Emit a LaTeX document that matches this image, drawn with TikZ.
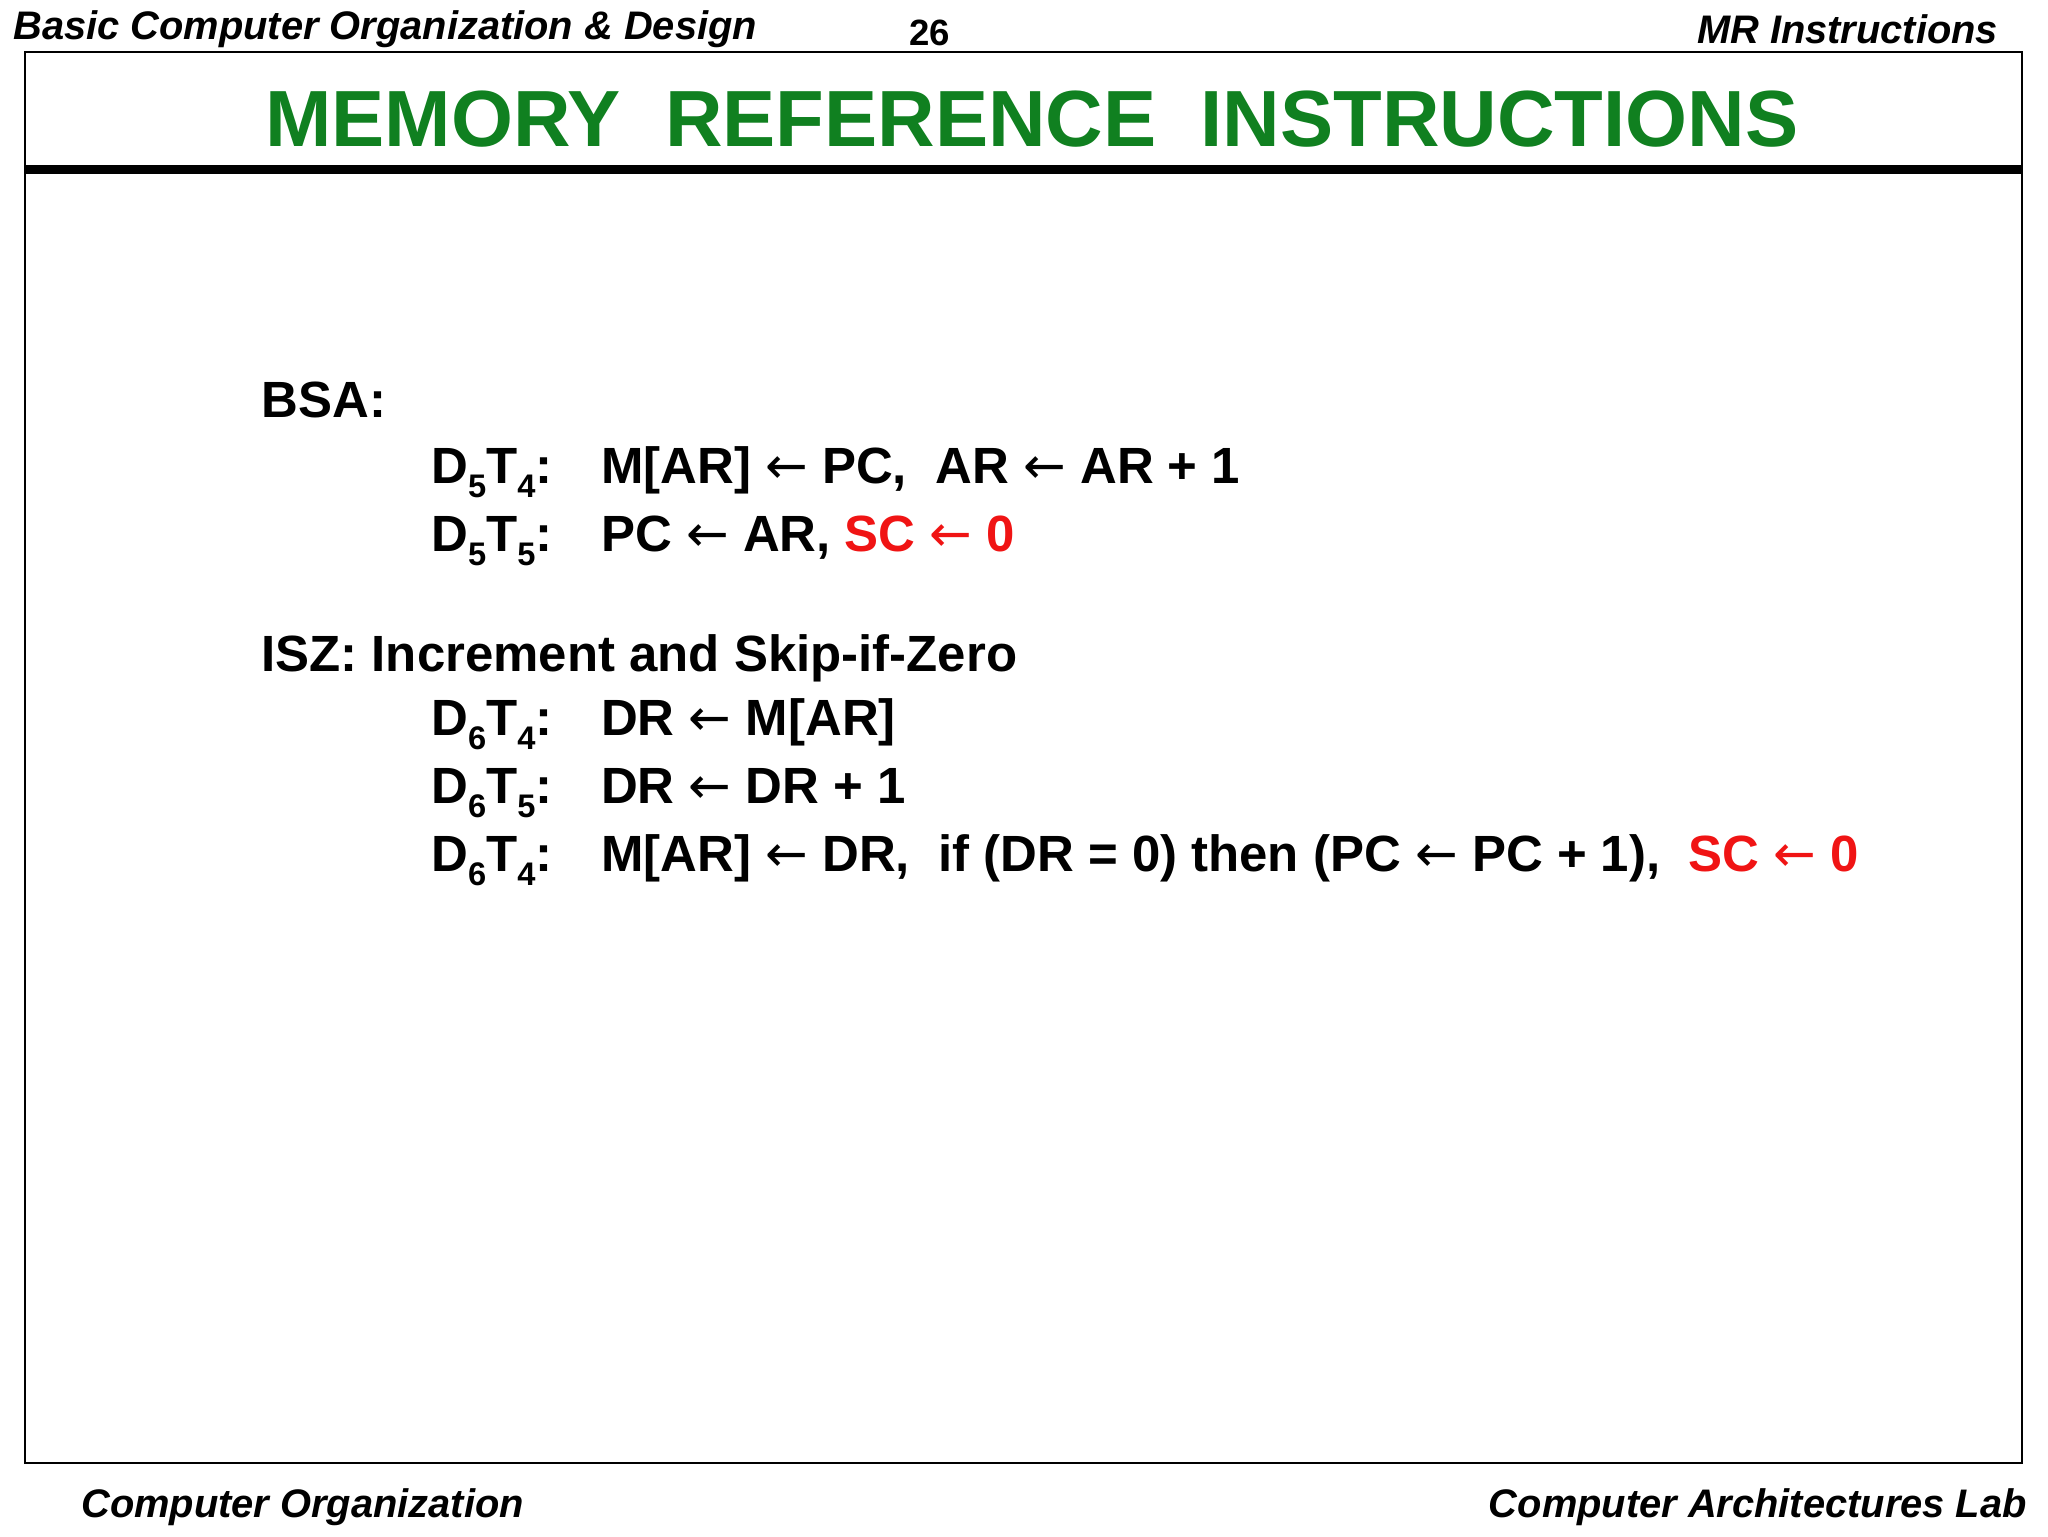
\documentclass[tikz,border=0pt]{standalone}
\usepackage{fontspec}
\setmainfont{Liberation Sans}
\newfontfamily\arrfont{DejaVu Sans}
\definecolor{tgreen}{RGB}{16,128,32}
\definecolor{tred}{RGB}{240,20,20}
\newcommand{\sbx}[1]{\raisebox{-0.28em}{\fontsize{25}{25}\selectfont #1}}
\newcommand{\la}{\hspace{0.28em}{\arrfont\mdseries ←}\hspace{0.28em}}
\begin{document}
\begin{tikzpicture}[x=1pt,y=-1pt,
  hdr/.style={inner sep=0pt,font=\fontsize{30.5}{30}\selectfont\bfseries\itshape},
  body/.style={inner sep=0pt,anchor=base west,font=\fontsize{39}{39}\selectfont\bfseries}]
\useasboundingbox (0,0) rectangle (1568,1176);
\fill[white] (0,0) rectangle (1568,1176);
\draw[line width=1.5pt] (19,40) rectangle (1548,1120);
\draw[line width=7pt] (19,130) -- (1548,130);
\node[hdr,anchor=base west] (h1) at (10,30) {Basic Computer Organization \& Design};
\node[hdr,anchor=base,font=\fontsize{28}{28}\selectfont\bfseries] (h2) at (712,35) {26};
\node[hdr,anchor=base east] (h3) at (1530,33) {MR Instructions};
\node[hdr,anchor=base west] (f1) at (62,1162) {Computer Organization};
\node[hdr,anchor=base east] (f2) at (1552,1162) {Computer Architectures Lab};
\node[inner sep=0pt,anchor=base,text=tgreen,font=\fontsize{61}{61}\selectfont\bfseries] (title) at (790,112) {MEMORY\ \ REFERENCE\ \ INSTRUCTIONS};
\node[body] (bsa) at (200,320) {BSA:};
\node[body] (l1) at (330,370) {D\sbx{5}T\sbx{4}:};
\node[body] (s1) at (460,370) {M[AR]\la PC,\ \ AR\la AR + 1};
\node[body] (l2) at (330,422) {D\sbx{5}T\sbx{5}:};
\node[body] (s2) at (460,422) {PC\la AR, \textcolor{tred}{SC\la 0}};
\node[body] (isz) at (200,514) {ISZ: Increment and Skip-if-Zero};
\node[body] (l3) at (330,563) {D\sbx{6}T\sbx{4}:};
\node[body] (s3) at (460,563) {DR\la M[AR]};
\node[body] (l4) at (330,615) {D\sbx{6}T\sbx{5}:};
\node[body] (s4) at (460,615) {DR\la DR + 1};
\node[body] (l5) at (330,667) {D\sbx{6}T\sbx{4}:};
\node[body] (s5) at (460,667) {M[AR]\la DR,\ \ if (DR = 0) then (PC\la PC + 1),\ \ \textcolor{tred}{SC\la 0}};
\end{tikzpicture}
\end{document}
